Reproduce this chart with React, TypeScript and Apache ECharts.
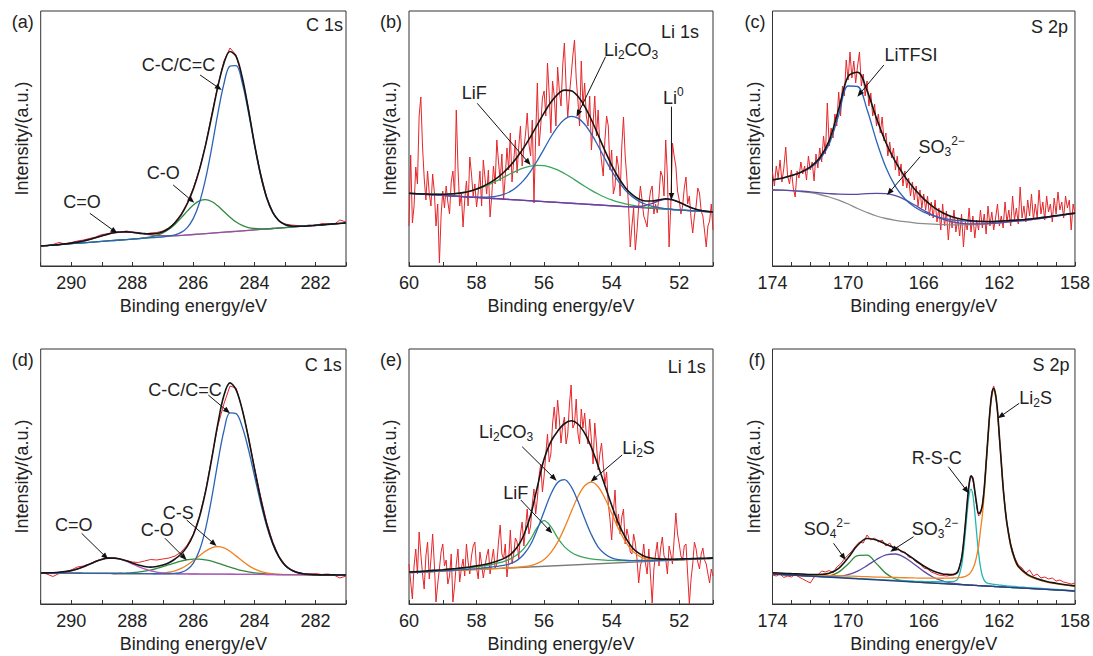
import React, { useEffect, useRef } from 'react';
import * as echarts from 'echarts';

const FONT = '"Liberation Sans", Arial, Helvetica, sans-serif';
const TXT = '#222222';

const range = (s: number, e: number, st: number): number[] => {
  const n = Math.round((s - e) / st);
  const out: number[] = [];
  for (let i = 0; i <= n; i++) out.push(Math.round((s - i * st) * 100) / 100);
  return out;
};
const Z = (n: number): number[] => new Array(n).fill(0);

// ---------- axes ----------
const X_MIN = [281, 51, 158, 281, 51, 158];
const X_MAX = [291, 60, 174, 291, 60, 174];
const X_LABEL_FROM = [282, 52, 158, 282, 52, 158];
const X_LABEL_EVERY = [2, 2, 4, 2, 2, 4];
const Y_MAX = 255;
const TAGS = ['(a)', '(b)', '(c)', '(d)', '(e)', '(f)'];
const CORE = ['C 1s', 'Li 1s', 'S 2p', 'C 1s', 'Li 1s', 'S 2p'];

// ---------- energy grids ----------
const GRID_AD = range(291, 281, 0.2);
const GRID_BE = range(60, 51, 0.2);
const GRID_C = range(174, 158, 0.5);
const GRID_F = [174, 173.5, 173, 172.5, 172, 171.5, 171, 170.5, 170, 169.5, 169, 168.5, 168, 167.5, 167, 166.5, 166, 165.5, 165,
  164.8, 164.6, 164.4, 164.2,
  164.0, 163.9, 163.8, 163.7, 163.6, 163.5, 163.4, 163.3, 163.2, 163.1, 163.0, 162.9, 162.8, 162.7, 162.6, 162.5, 162.4, 162.3, 162.2, 162.1, 162.0, 161.9, 161.8, 161.7, 161.6,
  161.4, 161.2, 161.0, 160.5, 160, 159.5, 159, 158.5, 158];
const RAW_GRID_BE = range(60, 51, 0.05);
const RAW_GRID_C = range(174, 158, 0.1);
const RAW_GRID_F = [...range(174, 164.2, 0.2), ...range(164.0, 161.6, 0.1), ...range(161.4, 158, 0.2)];

// ---------- (a) C 1s ----------
const A_BASE: [number, number][] = [[291, 20], [281, 43]];
const A_CC = [...Z(21), 0.4, 1.1, 3, 7.4, 16.1, 31.3, 54.6, 85, 118.8, 148.2, 165.7, 165.7, 148.2, 118.8, 85, 54.6, 31.3, 16.1, 7.4, 3, 1.1, 0.4, ...Z(8)];
const A_CO = [...Z(17), 0.4, 0.9, 2, 3.9, 7.1, 11.7, 17.5, 23.8, 29.4, 33.1, 33.9, 31.6, 26.8, 20.6, 14.5, 9.2, 5.4, 2.8, 1.4, 0.6, 0.2, ...Z(13)];
const A_CEO = [...Z(4), 0.3, 0.6, 1.1, 1.8, 2.9, 4.2, 5.5, 6.8, 7.7, 8, 7.7, 6.8, 5.5, 4.2, 2.9, 1.8, 1.1, 0.6, 0.3, ...Z(28)];
const A_RAW = [20.5, 20, 21.5, 23.5, 22, 23.5, 25, 26, 27.5, 29, 31.5, 32, 34.5, 33.5, 35, 34, 33.5, 32, 33, 33.5,
  35, 38, 44, 52, 63, 78, 97, 121, 151, 180, 205, 218, 211, 188, 158, 122, 93, 69, 54, 45,
  42, 41, 40.5, 40, 41, 40, 42.5, 42, 41.5, 46, 44];

// ---------- (b) Li 1s ----------
const B_BASE: [number, number][] = [[60, 72.7], [51, 54]];
const B_LI2CO3 = [...Z(10), 0.3, 0.7, 1.4, 2.6, 4.8, 8.1, 13.3, 20.3, 29.5, 40.6, 52.8, 65, 75.6, 83.3, 86.8, 85.6, 79.9, 70.6, 59, 46.6, 34.9, 24.7, 16.5, 10.5, 6.3, 3.6, 1.9, 1.0, 0.5, ...Z(7)];
const B_LIF = [0.1, 0.1, 0.2, 0.4, 0.7, 1.1, 1.8, 2.7, 4, 5.8, 8.1, 10.9, 14.2, 17.9, 21.8, 25.8, 29.4, 32.5, 34.7, 35.9,
  35.9, 34.7, 32.5, 29.4, 25.8, 21.8, 17.9, 14.2, 10.9, 8.1, 5.8, 4, 2.7, 1.8, 1.1, 0.7, 0.4, 0.2, 0.1, ...Z(7)];
const B_LI0 = [...Z(33), 0.3, 1, 2.5, 4.9, 7.7, 9.7, 9.7, 7.7, 4.9, 2.5, 1, 0.3, 0];
const B_RAW = [40, 111, 43, 60, 99, 82, 150, 169, 120, 88, 66, 95, 72, 60, 92, 74, 40, 62, 3, 50,
  75, 58, 80, 64, 52, 84, 95, 70, 156, 98, 60, 72, 39, 66, 85, 60, 109, 92, 70, 82,
  59, 74, 95, 60, 106, 88, 72, 96, 49, 70, 100, 82, 126, 104, 85, 112, 66, 90, 118, 96,
  133, 84, 105, 126, 93, 120, 140, 100, 118, 132, 153, 122, 110, 146, 63, 130, 183, 120, 140, 168,
  175, 150, 203, 172, 133, 185, 170, 140, 199, 176, 160, 200, 223, 180, 149, 172, 190, 210, 226, 188,
  166, 140, 205, 160, 183, 150, 140, 170, 116, 142, 170, 130, 156, 120, 105, 90, 126, 150, 140, 96,
  116, 72, 80, 110, 99, 70, 120, 149, 110, 88, 60, 19, 40, 58, 16, 35, 60, 80, 66, 50,
  45, 39, 62, 75, 80, 52, 62, 53, 70, 95, 90, 70, 126, 90, 19, 60, 123, 110, 100, 75,
  66, 52, 60, 78, 89, 62, 70, 48, 33, 50, 60, 78, 73, 55, 50, 35, 19, 40, 45, 62, 36];

// ---------- (c) S 2p ----------
const C_BASE = [76, 75.8, 75.3, 74.5, 73.3, 71.5, 69, 65.8, 62, 57.5, 53.5, 50, 47.5, 45.7, 44.3, 43.2, 42.4, 41.8, 41.4, 41.2,
  41.2, 41.4, 41.8, 42.4, 43.2, 44.1, 45, 46, 47.2, 48.5, 50, 51.3, 52.7];
const C_LITFSI = [10, 12, 15, 19, 25, 35, 53, 85, 118, 122, 103, 75, 51, 34, 23, 16, 11.5, 8.5, 6.5, 5,
  4, 3.2, 2.6, 2, 1.6, 1.3, 1, 0.8, 0.6, 0.5, 0.4, 0.3, 0.2];
const C_SO3 = [0, 0, 0.1, 0.3, 0.8, 1.7, 3.4, 6, 9.7, 14.2, 18.9, 22.7, 24.8, 24.6, 22.1, 18, 13.3, 8.9, 5.4, 3,
  1.5, 0.7, 0.3, ...Z(10)];
const C_RAW = [94, 80, 100, 88, 106, 84, 98, 119, 90, 82, 96, 78, 69, 95, 88, 104, 92, 100, 86, 110,
  96, 104, 85, 112, 98, 118, 104, 130, 112, 163, 120, 138, 128, 152, 140, 174, 150, 180, 170, 206,
  186, 214, 188, 205, 183, 200, 214, 180, 192, 170, 185, 160, 173, 150, 162, 140, 152, 133, 149, 125,
  133, 110, 124, 108, 118, 96, 110, 90, 102, 80, 95, 78, 88, 70, 84, 66, 80, 60, 76, 58,
  72, 56, 70, 50, 64, 48, 66, 44, 58, 36, 62, 40, 55, 26, 50, 38, 56, 34, 48, 30,
  52, 19, 44, 36, 58, 34, 50, 28, 46, 36, 56, 38, 52, 32, 60, 40, 54, 36, 48, 62,
  40, 50, 38, 64, 44, 56, 40, 70, 46, 58, 42, 79, 48, 60, 44, 66, 50, 72, 46, 62,
  48, 76, 52, 64, 46, 70, 54, 62, 44, 68, 52, 74, 56, 64, 48, 70, 58, 66, 36, 62, 52];

// ---------- (d) C 1s ----------
const D_BASE: [number, number][] = [[291, 31], [281, 29]];
const D_CC = [...Z(22), 0.5, 1.5, 4.4, 10.9, 23.7, 45.3, 75.9, 111.4, 143.2, 161.3, 160.7, 147.6, 125.6, 98.9, 72.1, 48.6, 30.4, 17.6, 9.4, 4.7, 2.1, 0.9, 0.4, ...Z(6)];
const D_CS = [...Z(19), 0.3, 0.7, 1.6, 3.1, 5.5, 9, 13.5, 18.4, 23, 26.3, 27.5, 26.3, 23, 18.4, 13.5, 9, 5.5, 3.1, 1.6, 0.7, 0.3, ...Z(11)];
const D_CO = [...Z(13), 0.3, 0.6, 1, 1.6, 2.5, 3.7, 5.3, 7.1, 9.1, 11.1, 12.9, 14.2, 14.9, 14.9, 14.2, 12.9, 11.1, 9.1, 7.1, 5.3, 3.7, 2.5, 1.6, 1, 0.6, 0.3, ...Z(12)];
const D_CEO = [0, 0.2, 0.4, 0.8, 1.5, 2.6, 4.3, 6.5, 9.1, 11.8, 14, 15.3, 15.4, 14.3, 12.3, 9.7, 7, 4.7, 2.9, 1.7, 0.9, 0.4, 0.2, ...Z(28)];
const D_RAW = [31.5, 30, 27.5, 30.5, 32, 34, 37, 38, 40, 43, 45, 46.5, 46, 45, 43.5, 42, 41.5, 43, 44.5, 44,
  45, 46, 48, 52, 59, 70, 88, 113, 146, 178, 200, 218, 216, 195, 168, 137, 108, 82, 62, 48,
  39.5, 34.5, 32, 30.5, 30, 30.5, 29.5, 30, 29, 26, 28];

// ---------- (e) Li 1s ----------
const E_BASE: [number, number][] = [[60, 31.3], [51, 45.7]];
const E_LI2CO3 = [0, 0, 0, 0.1, 0.1, 0.2, 0.3, 0.4, 0.5, 0.7, 0.9, 1.2, 1.6, 2.2, 2.9, 4.2, 7.2, 13, 22.5, 37.3,
  54.9, 71.7, 83.2, 85.7, 78.4, 63.6, 45.9, 29.4, 16.7, 9.5, 5.3, 3.2, 2.2, 1.6, 1.2, 0.9, 0.7, 0.5, 0.4, 0.3,
  0.2, 0.2, 0.1, 0.1, 0, 0];
const E_LI2S = [...Z(16), 0.3, 0.6, 1.3, 3.2, 6.9, 13.4, 23.5, 37.2, 53, 68, 78.6, 82, 77, 65.2, 49.8, 34.2, 21.2, 11.8, 6, 2.7, 1.1, 0.5, 0.2, ...Z(7)];
const E_LIF = [0.7, 0.7, 0.8, 1, 1.1, 1.2, 1.4, 1.6, 1.9, 2.2, 2.7, 3.3, 4.1, 5.2, 6.7, 9.1, 12.8, 18.7, 27.8, 39.3,
  45.6, 39.3, 27.8, 18.7, 12.8, 9.1, 6.7, 5.2, 4.1, 3.3, 2.7, 2.2, 1.9, 1.6, 1.4, 1.2, 1.1, 1, 0.8, 0.7,
  0.7, 0.6, 0.5, 0.5, 0.4, 0.4];
const E_RAW = [40, 22, 5, 38, 55, 30, 72, 50, 30, 15, 48, 62, 25, 45, 70, 40, 2, 20, 35, 52,
  60, 38, 44, 20, 28, 50, 2, 18, 40, 55, 22, 35, 45, 28, 60, 42, 30, 48, 58, 62,
  36, 25, 52, 40, 26, 38, 48, 55, 30, 44, 55, 35, 40, 62, 79, 50, 45, 60, 27, 44,
  74, 40, 50, 66, 62, 45, 70, 82, 58, 76, 95, 70, 78, 100, 115, 90, 105, 128, 140, 112,
  128, 150, 170, 142, 150, 180, 197, 175, 204, 185, 161, 178, 187, 160, 170, 200, 219, 176, 180, 205,
  171, 160, 195, 176, 191, 170, 160, 185, 164, 140, 181, 160, 134, 150, 161, 140, 120, 132, 100, 85,
  64, 92, 114, 78, 90, 70, 87, 95, 60, 75, 67, 52, 50, 70, 61, 45, 21, 38, 45, 60,
  41, 30, 55, 28, 1, 35, 50, 62, 38, 56, 67, 48, 45, 30, 58, 50, 40, 65, 91, 70,
  60, 48, 44, 58, 60, 30, 0, 25, 40, 62, 55, 42, 35, 50, 56, 44, 40, 30, 21, 35, 28];

// ---------- (f) S 2p ----------
const F_BASE: [number, number][] = [[174, 30], [158, 13]];
const F_SO4 = [0, 0, 0, 0, 0, 0.2, 1.4, 5.6, 14.2, 23.1, 24.1, 16.2, 7, 1.9, 0.3, ...Z(42)];
const F_SO3 = [0, 0, 0, 0, 0, 0.1, 0.5, 1.5, 3.7, 7.7, 13.7, 20.4, 25.5, 26.9, 23.8, 17.7, 11.1, 5.8, 2.6,
  1.8, 1.2, 0.8, 0.5, 0.3, 0.2, 0.2, 0.1, ...Z(30)];
const F_RSC = [0.1, 0.1, 0.1, 0.2, 0.2, 0.2, 0.2, 0.3, 0.3, 0.3, 0.4, 0.4, 0.5, 0.6, 0.7, 0.8, 1, 1.3, 1.7,
  2, 2.3, 2.8, 5.5,
  18.8, 33, 52, 73, 90, 96, 90, 73, 52, 33, 18.8, 10, 5.5, 3.4, 2.8, 2.5, 2.3, 2.1, 2, 1.8, 1.7, 1.6, 1.5, 1.4, 1.3,
  1.2, 1.1, 1.0, 0.8, 0.7, 0.6, 0.5, 0.4, 0.4];
const F_LI2S = [1.1, 1.2, 1.3, 1.4, 1.5, 1.7, 1.8, 2, 2.2, 2.4, 2.6, 2.8, 3.1, 3.4, 3.7, 4, 4.4, 4.9, 5.3,
  5.7, 5.9, 6.3, 6.7,
  7.3, 7.8, 8.4, 9.6, 10.8, 13.3, 16.7, 21.6, 29.4, 39.2, 55, 70.6, 92, 119.6, 147, 172.5, 190, 196, 190, 174.4, 149, 123.5, 98, 78.4, 62.7,
  41.2, 28.4, 20.6, 13, 9.4, 7.3, 6.2, 5.4, 4.7];
const F_RAW = [29, 28, 30, 26.5, 28, 27, 29.5, 27, 25, 23, 21, 27, 29, 33, 32, 33.5, 31, 37, 40, 45,
  49, 53, 58, 62, 61, 69, 64, 66, 62, 64, 58, 61, 55, 57, 52, 52, 47, 46, 42, 40,
  36, 35, 32, 30.5, 29, 28.5, 28, 28.5, 29, 31,
  45, 60, 79, 101, 120, 128, 124, 112, 98, 88, 90, 99, 116, 142, 168, 194, 212, 218, 210, 193, 167, 142, 117, 97, 81,
  60, 47, 39, 36, 31, 34, 28, 30, 26, 27, 25, 26, 23, 24, 22, 21, 20, 21];

// ---------- annotations (data coordinates of each panel) ----------
type Piece = [string, 'n' | 'b' | 'p'];
type Ann = { p: number; t: Piece[]; at: [number, number]; from: [number, number]; to: [number, number] };
const ANNOTATIONS: Ann[] = [
  { p: 0, t: [['C-C/C=C', 'n']], at: [287.69, 201], from: [285.78, 191], to: [285.07, 176] },
  { p: 0, t: [['C-O', 'n']], at: [287.53, 92.7], from: [286.66, 81], to: [285.97, 63.3] },
  { p: 0, t: [['C=O', 'n']], at: [290.26, 64.3], from: [289.39, 52.7], to: [288.49, 32.7] },
  { p: 1, t: [['Li', 'n'], ['2', 'b'], ['CO', 'n'], ['3', 'b']], at: [54.23, 216], from: [54.18, 209.3], to: [55.04, 149.3] },
  { p: 1, t: [['LiF', 'n']], at: [58.44, 172.7], from: [57.98, 162.7], to: [56.4, 101] },
  { p: 1, t: [['Li', 'n'], ['0', 'p']], at: [52.48, 168.3], from: [52.23, 159.3], to: [52.23, 66] },
  { p: 2, t: [['LiTFSI', 'n']], at: [168.08, 211], from: [168.11, 201], to: [169.51, 169.3] },
  { p: 2, t: [['SO', 'n'], ['3', 'b'], ['2\u2212', 'p']], at: [166.28, 119.3], from: [166.19, 109.3], to: [167.94, 71] },
  { p: 3, t: [['C-C/C=C', 'n']], at: [287.48, 214], from: [285.51, 209], to: [284.8, 190.7] },
  { p: 3, t: [['C-S', 'n']], at: [287.0, 91.3], from: [286.22, 84], to: [285.24, 58] },
  { p: 3, t: [['C-O', 'n']], at: [287.72, 74], from: [286.93, 65.7], to: [286.22, 44] },
  { p: 3, t: [['C=O', 'n']], at: [290.53, 79], from: [289.66, 70.7], to: [288.79, 44.7] },
  { p: 4, t: [['Li', 'n'], ['2', 'b'], ['CO', 'n'], ['3', 'b']], at: [57.93, 172.3], from: [56.65, 157.3], to: [55.63, 123.3] },
  { p: 4, t: [['Li', 'n'], ['2', 'b'], ['S', 'n']], at: [53.69, 155.7], from: [53.69, 149], to: [54.62, 122.3] },
  { p: 4, t: [['LiF', 'n']], at: [57.21, 110.7], from: [56.69, 104], to: [55.76, 70.7] },
  { p: 5, t: [['Li', 'n'], ['2', 'b'], ['S', 'n']], at: [160.95, 205.7], from: [160.95, 200.7], to: [162.08, 185.7] },
  { p: 5, t: [['R-S-C', 'n']], at: [166.63, 145.7], from: [164.7, 137.3], to: [163.62, 110.7] },
  { p: 5, t: [['SO', 'n'], ['4', 'b'], ['2\u2212', 'p']], at: [172.35, 74.7], from: [170.77, 60.7], to: [170.13, 44] },
  { p: 5, t: [['SO', 'n'], ['3', 'b'], ['2\u2212', 'p']], at: [166.63, 74.7], from: [166.54, 67.3], to: [167.77, 52.3] },
];

// ---------- layout ----------
const LEFTS = [40.7, 409, 772.5];
const WIDTHS = [305.3, 304, 305];
const TOPS = [11, 349];
const PLOT_H = 255;
const CORE_RIGHT_GAP = [3, 14, 9.5, 4.3, 7.3, 8];
const CORE_Y_OFF = [14, 21, 15.7, 16, 17.7, 16];

// ---------- colours ----------
const RED = '#e5262a';
const BLACK = '#151515';
const BLUE = '#2b63b6';
const GREEN = '#2f8a3f';
const GREEN2 = '#3aa65b';
const ORANGE = '#f0821f';
const CYAN = '#22b7b5';
const GRAY = '#8c8c8c';
const NAVY = '#2e3d7e';

const lin = (pts: [number, number][], e: number) => {
  const [[x0, y0], [x1, y1]] = pts;
  return y0 + ((e - x0) / (x1 - x0)) * (y1 - y0);
};
const zip = (xs: number[], ys: number[]) => xs.map((x, i) => [x, ys[i]]);
const stack = (xs: number[], base: number[], parts: number[][]) =>
  xs.map((x, i) => [x, base[i] + parts.reduce((s, p) => s + (p[i] || 0), 0)]);

const L = (idx: number, data: any[], color: string, width: number, smooth: number | boolean = 0.35) => ({
  type: 'line', xAxisIndex: idx, yAxisIndex: idx, data, showSymbol: false, symbol: 'none', smooth,
  lineStyle: { color, width }, silent: true, animation: false, clip: true,
});

function buildSeries() {
  const s: any[] = [];
  // (a)
  const bA = GRID_AD.map((e) => lin(A_BASE, e));
  s.push(L(0, zip(GRID_AD, A_RAW), RED, 1, false));
  s.push(L(0, A_BASE, GRAY, 1.2, false));
  s.push(L(0, stack(GRID_AD, bA, [A_CEO]), '#9a4da3', 1.3));
  s.push(L(0, stack(GRID_AD, bA, [A_CO]), GREEN, 1.3));
  s.push(L(0, stack(GRID_AD, bA, [A_CC]), BLUE, 1.3));
  s.push(L(0, stack(GRID_AD, bA, [A_CC, A_CO, A_CEO]), BLACK, 1.6));
  // (b)
  const bB = GRID_BE.map((e) => lin(B_BASE, e));
  s.push(L(1, zip(RAW_GRID_BE, B_RAW), RED, 1, false));
  s.push(L(1, B_BASE, '#6f3f9f', 1.3, false));
  s.push(L(1, stack(GRID_BE, bB, [B_LIF]), GREEN2, 1.3));
  s.push(L(1, stack(GRID_BE, bB, [B_LI2CO3]), BLUE, 1.3));
  s.push(L(1, stack(GRID_BE, bB, [B_LI0]), '#6f3f9f', 1.3));
  s.push(L(1, stack(GRID_BE, bB, [B_LI2CO3, B_LIF, B_LI0]), BLACK, 1.6));
  // (c)
  s.push(L(2, zip(RAW_GRID_C, C_RAW), RED, 1, false));
  s.push(L(2, zip(GRID_C, C_BASE), GRAY, 1.3));
  s.push(L(2, stack(GRID_C, C_BASE, [C_SO3]), '#5a48a3', 1.3));
  s.push(L(2, stack(GRID_C, C_BASE, [C_LITFSI]), BLUE, 1.3));
  s.push(L(2, stack(GRID_C, C_BASE, [C_LITFSI, C_SO3]), BLACK, 1.6));
  // (d)
  const bD = GRID_AD.map((e) => lin(D_BASE, e));
  s.push(L(3, zip(GRID_AD, D_RAW), RED, 1, false));
  s.push(L(3, D_BASE, '#9b93b5', 1.3, false));
  s.push(L(3, stack(GRID_AD, bD, [D_CO]), GREEN, 1.3));
  s.push(L(3, stack(GRID_AD, bD, [D_CS]), ORANGE, 1.3));
  s.push(L(3, stack(GRID_AD, bD, [D_CEO]), '#b155bb', 1.3));
  s.push(L(3, stack(GRID_AD, bD, [D_CC]), BLUE, 1.3));
  s.push(L(3, stack(GRID_AD, bD, [D_CC, D_CS, D_CO, D_CEO]), BLACK, 1.6));
  // (e)
  const bE = GRID_BE.map((e) => lin(E_BASE, e));
  s.push(L(4, zip(RAW_GRID_BE, E_RAW), RED, 1, false));
  s.push(L(4, E_BASE, '#7a7a7a', 1.3, false));
  s.push(L(4, stack(GRID_BE, bE, [E_LIF]), GREEN2, 1.3));
  s.push(L(4, stack(GRID_BE, bE, [E_LI2S]), ORANGE, 1.3));
  s.push(L(4, stack(GRID_BE, bE, [E_LI2CO3]), BLUE, 1.3));
  s.push(L(4, stack(GRID_BE, bE, [E_LI2CO3, E_LI2S, E_LIF]), BLACK, 1.6));
  // (f)
  const bF = GRID_F.map((e) => lin(F_BASE, e));
  s.push(L(5, zip(RAW_GRID_F, F_RAW), RED, 1, false));
  s.push(L(5, stack(GRID_F, bF, [F_SO4]), GREEN, 1.3));
  s.push(L(5, stack(GRID_F, bF, [F_SO3]), '#5b4cab', 1.3));
  s.push(L(5, stack(GRID_F, bF, [F_RSC]), CYAN, 1.3));
  s.push(L(5, stack(GRID_F, bF, [F_LI2S]), ORANGE, 1.3));
  s.push(L(5, F_BASE, NAVY, 1.3, false));
  s.push(L(5, stack(GRID_F, bF, [F_SO4, F_SO3, F_RSC, F_LI2S]), BLACK, 1.6));
  return s;
}

function buildOption() {
  const grid: any[] = [];
  const xAxis: any[] = [];
  const yAxis: any[] = [];
  for (let p = 0; p < 6; p++) {
    const c = p % 3;
    const r = Math.floor(p / 3);
    grid.push({ left: LEFTS[c], top: TOPS[r], width: WIDTHS[c], height: PLOT_H, show: true, borderColor: '#333', borderWidth: 1, backgroundColor: 'transparent' });
    xAxis.push({
      gridIndex: p, type: 'value', min: X_MIN[p], max: X_MAX[p], interval: 1, inverse: true,
      axisLine: { show: true, lineStyle: { color: '#333', width: 1 } },
      axisTick: { show: true, inside: true, length: 4, lineStyle: { color: '#333', width: 1 } },
      axisLabel: {
        show: true, margin: 8, fontSize: 18, fontFamily: FONT, color: TXT,
        formatter: (v: number) => ((v - X_LABEL_FROM[p]) % X_LABEL_EVERY[p] === 0 ? String(v) : ''),
      },
      splitLine: { show: false },
      name: 'Binding energy/eV', nameLocation: 'middle', nameGap: 31,
      nameTextStyle: { fontSize: 18, fontFamily: FONT, color: TXT },
    });
    yAxis.push({
      gridIndex: p, type: 'value', min: 0, max: Y_MAX,
      axisLine: { show: false }, axisTick: { show: false }, axisLabel: { show: false }, splitLine: { show: false },
      name: 'Intensity/(a.u.)', nameLocation: 'middle', nameGap: 10,
      nameTextStyle: { fontSize: 18, fontFamily: FONT, color: TXT },
    });
  }
  return { animation: false, backgroundColor: '#ffffff', grid, xAxis, yAxis, series: buildSeries() };
}

function txt(text: string, x: number, y: number, size: number, align: string) {
  return {
    type: 'text', x, y, z: 100, silent: true,
    style: { text, fill: TXT, font: `${size}px ${FONT}`, textAlign: align, textVerticalAlign: 'middle', align, verticalAlign: 'middle' },
  };
}

function buildGraphic(chart: any) {
  const els: any[] = [];
  const ctx = document.createElement('canvas').getContext('2d') as CanvasRenderingContext2D;
  const measure = (t: string, size: number) => {
    ctx.font = `${size}px ${FONT}`;
    return ctx.measureText(t).width;
  };
  for (let p = 0; p < 6; p++) {
    const c = p % 3;
    const r = Math.floor(p / 3);
    els.push(txt(TAGS[p], LEFTS[c] - 7, TOPS[r] + 11, 18, 'right'));
    els.push(txt(CORE[p], LEFTS[c] + WIDTHS[c] - CORE_RIGHT_GAP[p], TOPS[r] + CORE_Y_OFF[p], 18, 'right'));
  }
  for (const a of ANNOTATIONS) {
    const [x0, y0] = chart.convertToPixel({ gridIndex: a.p }, a.at);
    let cx = x0;
    for (const [t, k] of a.t) {
      const size = k === 'n' ? 18 : 12;
      const dy = k === 'b' ? 5 : k === 'p' ? -6 : 0;
      els.push(txt(t, cx, y0 + dy, size, 'left'));
      cx += measure(t, size);
    }
    const [x1, y1] = chart.convertToPixel({ gridIndex: a.p }, a.from);
    const [x2, y2] = chart.convertToPixel({ gridIndex: a.p }, a.to);
    const dx = x2 - x1;
    const dyy = y2 - y1;
    const len = Math.hypot(dx, dyy) || 1;
    const ux = dx / len;
    const uy = dyy / len;
    const HL = 7;
    const HW = 2.8;
    els.push({ type: 'line', z: 100, silent: true, shape: { x1, y1, x2: x2 - ux * HL * 0.7, y2: y2 - uy * HL * 0.7 }, style: { stroke: '#111', lineWidth: 1 } });
    els.push({
      type: 'polygon', z: 100, silent: true,
      shape: { points: [[x2, y2], [x2 - ux * HL - uy * HW, y2 - uy * HL + ux * HW], [x2 - ux * HL + uy * HW, y2 - uy * HL - ux * HW]] },
      style: { fill: '#111' },
    });
  }
  return els;
}

export default function App() {
  const ref = useRef<HTMLDivElement>(null);
  useEffect(() => {
    const el = ref.current;
    if (!el) return;
    const chart = echarts.init(el, undefined, { renderer: 'svg' });
    chart.setOption(buildOption());
    chart.setOption({ graphic: buildGraphic(chart) });
    return () => chart.dispose();
  }, []);
  return <div ref={ref} style={{ position: 'absolute', left: 0, top: 0, width: 1093, height: 656, background: '#fff' }} />;
}
